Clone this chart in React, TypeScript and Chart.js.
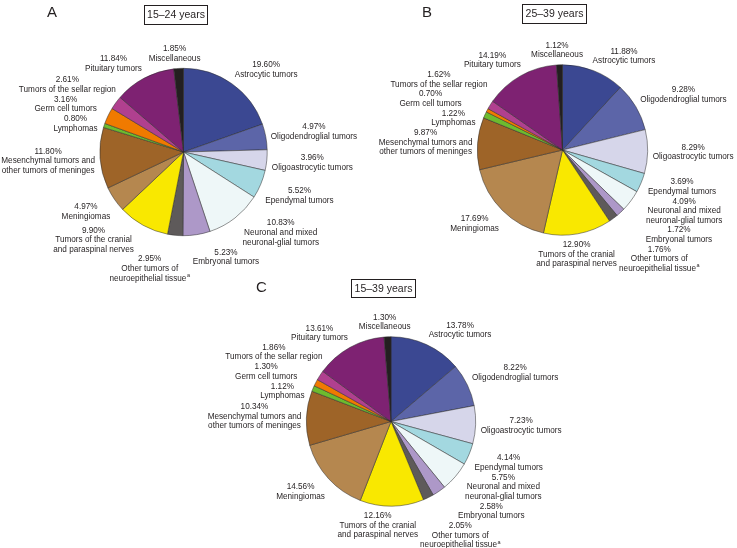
import React, { useEffect, useRef } from "react";
import { Chart, registerables } from "chart.js";
Chart.register(...registerables);

const W = 737;
const H = 548;

const categories = [
  "Astrocytic tumors",
  "Oligodendroglial tumors",
  "Oligoastrocytic tumors",
  "Ependymal tumors",
  "Neuronal and mixed\nneuronal-glial tumors",
  "Embryonal tumors",
  "Other tumors of\nneuroepithelial tissue^a",
  "Tumors of the cranial\nand paraspinal nerves",
  "Meningiomas",
  "Mesenchymal tumors and\nother tumors of meninges",
  "Lymphomas",
  "Germ cell tumors",
  "Tumors of the sellar region",
  "Pituitary tumors",
  "Miscellaneous",
];

const panelLetters = ["A", "B", "C"];
const panelTitles = ["15–24 years", "25–39 years", "15–39 years"];

const valuesA = [19.6, 4.97, 3.96, 5.52, 10.83, 5.23, 2.95, 9.9, 4.97, 11.8, 0.8, 3.16, 2.61, 11.84, 1.85];
const valuesB = [11.88, 9.28, 8.29, 3.69, 4.09, 1.72, 1.76, 12.9, 17.69, 9.87, 1.22, 0.7, 1.62, 14.19, 1.12];
const valuesC = [13.78, 8.22, 7.23, 4.14, 5.75, 2.58, 2.05, 12.16, 14.56, 10.34, 1.12, 1.3, 1.86, 13.61, 1.3];

const sliceColors = [
  "#3b4892",
  "#5c65a8",
  "#d6d6ea",
  "#a3d8e0",
  "#eef7f8",
  "#ad98c8",
  "#5e5a5a",
  "#f9e800",
  "#b5874f",
  "#9e6428",
  "#6dbb2e",
  "#f07a00",
  "#b0408f",
  "#7e2272",
  "#231f20",
];

type Panel = {
  letter: string;
  title: string;
  values: number[];
  cx: number;
  cy: number;
  r: number;
  letterX: number;
  letterY: number;
  box: [number, number, number, number];
};

const PANELS: Panel[] = [
  { letter: panelLetters[0], title: panelTitles[0], values: valuesA, cx: 183.5, cy: 152, r: 84, letterX: 47, letterY: 17, box: [144, 4.5, 63, 19] },
  { letter: panelLetters[1], title: panelTitles[1], values: valuesB, cx: 562.5, cy: 150, r: 85.5, letterX: 422, letterY: 17, box: [522, 3.5, 64, 19] },
  { letter: panelLetters[2], title: panelTitles[2], values: valuesC, cx: 391, cy: 421.5, r: 85, letterX: 256, letterY: 292, box: [351, 279, 64, 18] },
];

const FONT_FAMILY = "'Liberation Sans', Arial, Helvetica, sans-serif";
const LABEL_FONT = `8.2px ${FONT_FAMILY}`;
const SUP_FONT = `5.5px ${FONT_FAMILY}`;
const LH = 9.7;
const TEXT_COLOR = "#231f20";
const TWO_PI = Math.PI * 2;

function lineWidth(ctx: CanvasRenderingContext2D, t: string) {
  if (t.endsWith("^a")) {
    ctx.font = LABEL_FONT;
    const b = ctx.measureText(t.slice(0, -2)).width;
    ctx.font = SUP_FONT;
    const s = ctx.measureText("a").width;
    ctx.font = LABEL_FONT;
    return b + s + 0.5;
  }
  ctx.font = LABEL_FONT;
  return ctx.measureText(t).width;
}

function drawLine(ctx: CanvasRenderingContext2D, t: string, x: number, y: number) {
  if (t.endsWith("^a")) {
    const total = lineWidth(ctx, t);
    const base = t.slice(0, -2);
    ctx.font = LABEL_FONT;
    const bw = ctx.measureText(base).width;
    ctx.textAlign = "left";
    const x0 = x - total / 2;
    ctx.fillText(base, x0, y);
    ctx.font = SUP_FONT;
    ctx.fillText("a", x0 + bw + 0.5, y - 3);
    ctx.font = LABEL_FONT;
    ctx.textAlign = "center";
    return;
  }
  ctx.font = LABEL_FONT;
  ctx.textAlign = "center";
  ctx.fillText(t, x, y);
}

type Rect = { x0: number; x1: number; y0: number; y1: number; cx: number; cy: number };

const norm = (a: number) => ((a % TWO_PI) + TWO_PI) % TWO_PI;

function makePlugin(panel: Panel) {
  return {
    id: "pieLabels" + panel.letter,
    afterDraw(chart: any) {
      const ctx: CanvasRenderingContext2D = chart.ctx;
      const meta = chart.getDatasetMeta(0);
      const arcs = meta.data as any[];
      if (!arcs.length) return;
      const cx = arcs[0].x;
      const cy = arcs[0].y;
      const r = arcs[0].outerRadius;
      ctx.save();
      ctx.fillStyle = TEXT_COLOR;
      ctx.textBaseline = "middle";
      const n = arcs.length;
      const items = arcs.map((a, i) => {
        const texts = [panel.values[i].toFixed(2) + "%", ...categories[i].split("\n")];
        const w = Math.max(...texts.map((t) => lineWidth(ctx, t)));
        const h = texts.length * LH;
        const mid = (a.startAngle + a.endAngle) / 2;
        return { i, texts, w, h, mid, val: panel.values[i] };
      });

      const GAP = 5;
      const f = (t: number) => Math.max(-1, Math.min(1, t * 2.5));
      const rectAt = (w: number, h: number, ang: number, d: number): Rect => {
        const ux = Math.cos(ang);
        const uy = Math.sin(ang);
        const px = cx + ux * d;
        const py = cy + uy * d;
        const ccx = px + (f(ux) * w) / 2;
        const ccy = py + (f(uy) * h) / 2;
        return { x0: ccx - w / 2, x1: ccx + w / 2, y0: ccy - h / 2, y1: ccy + h / 2, cx: ccx, cy: ccy };
      };
      const nearest = (rc: Rect) => {
        const nx = Math.max(rc.x0, Math.min(cx, rc.x1));
        const ny = Math.max(rc.y0, Math.min(cy, rc.y1));
        return Math.hypot(nx - cx, ny - cy);
      };
      const overlap = (p: Rect, q: Rect) =>
        p.x0 < q.x1 + 2 && p.x1 > q.x0 - 2 && p.y0 < q.y1 - 0.3 && p.y1 > q.y0 + 0.3;

      const phi = items.map((it) => it.mid);
      const dist = items.map(() => r + GAP);
      const stiff = items.map((it) => Math.sqrt(it.val));
      const MAXDEV = (28 * Math.PI) / 180;
      const STEP = 0.003;
      let rects = items.map((it, i) => rectAt(it.w, it.h, phi[i], dist[i]));
      for (let iter = 0; iter < 5000; iter++) {
        const pos = new Array(n).fill(0);
        const neg = new Array(n).fill(0);
        let any = false;
        for (let i = 0; i < n; i++) {
          for (let j = i + 1; j < n; j++) {
            if (!overlap(rects[i], rects[j])) continue;
            any = true;
            const iBefore = norm(items[j].mid - items[i].mid) < Math.PI;
            const a = iBefore ? i : j;
            const b = iBefore ? j : i;
            const tot = stiff[a] + stiff[b];
            neg[a] += (2 * STEP * stiff[b]) / tot;
            pos[b] += (2 * STEP * stiff[a]) / tot;
          }
        }
        if (!any) break;
        for (let k = 0; k < n; k++) {
          if (pos[k] > 0 && neg[k] > 0) {
            dist[k] += 0.35;
          }
          phi[k] += pos[k] - neg[k];
          const dev = phi[k] - items[k].mid;
          if (dev > MAXDEV) {
            phi[k] = items[k].mid + MAXDEV;
            dist[k] += 0.35;
          } else if (dev < -MAXDEV) {
            phi[k] = items[k].mid - MAXDEV;
            dist[k] += 0.35;
          }
          let rc = rectAt(items[k].w, items[k].h, phi[k], dist[k]);
          let guard = 0;
          while (nearest(rc) < r + 2 && guard++ < 40) {
            dist[k] += 0.5;
            rc = rectAt(items[k].w, items[k].h, phi[k], dist[k]);
          }
          rects[k] = rc;
        }
      }
      items.forEach((it, i) => {
        const rc = rects[i];
        it.texts.forEach((t, j) => drawLine(ctx, t, rc.cx, rc.y0 + LH * (j + 0.5)));
      });
      // panel letter
      ctx.textAlign = "left";
      ctx.textBaseline = "alphabetic";
      ctx.font = `15px ${FONT_FAMILY}`;
      ctx.fillText(panel.letter, panel.letterX, panel.letterY);
      // title box
      const [bx, by, bw, bh] = panel.box;
      ctx.strokeStyle = "#231f20";
      ctx.lineWidth = 1;
      ctx.strokeRect(Math.round(bx) + 0.5, Math.round(by) + 0.5, Math.round(bw), Math.round(bh));
      ctx.font = `10.5px ${FONT_FAMILY}`;
      ctx.textAlign = "center";
      ctx.textBaseline = "middle";
      ctx.fillText(panel.title, bx + bw / 2 + 0.5, by + bh / 2 + 1);
      ctx.restore();
    },
  };
}

function PiePanel({ panel }: { panel: Panel }) {
  const ref = useRef<HTMLCanvasElement | null>(null);
  useEffect(() => {
    if (!ref.current) return;
    const pad = {
      left: panel.cx - panel.r,
      top: panel.cy - panel.r,
      right: W - (panel.cx + panel.r),
      bottom: H - (panel.cy + panel.r),
    };
    const chart = new Chart(ref.current, {
      type: "pie",
      data: {
        labels: categories,
        datasets: [
          {
            data: panel.values,
            backgroundColor: sliceColors,
            borderColor: "rgba(45,45,45,0.85)",
            borderWidth: 0.6,
          },
        ],
      },
      options: {
        responsive: false,
        animation: false,
        events: [],
        layout: { padding: pad },
        plugins: {
          legend: { display: false },
          tooltip: { enabled: false },
          title: { display: false },
        },
      },
      plugins: [makePlugin(panel)],
    });
    return () => chart.destroy();
  }, [panel]);
  return (
    <canvas
      ref={ref}
      width={W}
      height={H}
      style={{ position: "absolute", left: 0, top: 0, width: W, height: H }}
    />
  );
}

export default function App() {
  return (
    <div style={{ position: "absolute", left: 0, top: 0, width: W, height: H, background: "#ffffff" }}>
      {PANELS.map((p) => (
        <PiePanel key={p.letter} panel={p} />
      ))}
    </div>
  );
}
